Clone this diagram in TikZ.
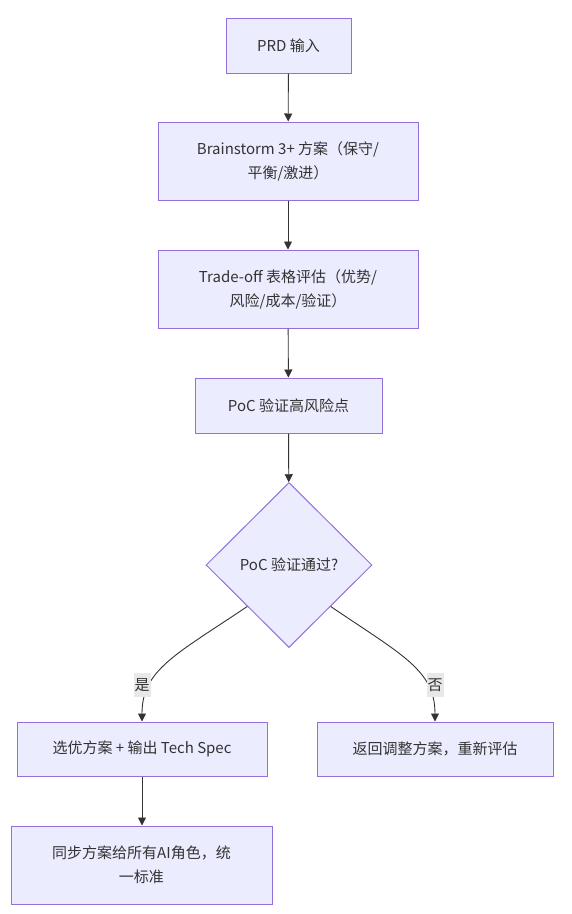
\documentclass[tikz,border=0pt]{standalone}
\usepackage{fontspec}
\setmainfont{Noto Sans CJK SC}
\usetikzlibrary{shapes.geometric,arrows.meta}
\definecolor{nodefill}{HTML}{ECECFF}
\definecolor{nodeline}{HTML}{9370DB}
\definecolor{edgecol}{HTML}{333333}
\definecolor{lblbg}{HTML}{E8E8E8}
\begin{document}
\begin{tikzpicture}[x=1pt,y=-1pt,
  every node/.style={font=\fontsize{15pt}{24pt}\selectfont, text=edgecol},
  box/.style={draw=nodeline, fill=nodefill, line width=1pt, rectangle, inner sep=0pt, align=center},
  decision/.style={draw=nodeline, fill=nodefill, line width=1pt, diamond, aspect=1, inner sep=0pt, minimum width=166pt, minimum height=165pt},
  flow/.style={draw=edgecol, line width=0.9pt, -{Triangle[length=8pt,width=8pt]}},
  elabel/.style={fill=lblbg, inner sep=1pt, minimum height=24pt, minimum width=16pt}
]
\useasboundingbox (0,0) rectangle (572,914);
\node[box, minimum width=125pt, minimum height=55pt] (prd) at (288.5,45.5) {PRD 输入};
\node[box, minimum width=260pt, minimum height=78pt] (brain) at (288,161) {Brainstorm 3+ 方案（保守/\\平衡/激进）};
\node[box, minimum width=260pt, minimum height=78pt] (trade) at (288,289) {Trade-off 表格评估（优势/\\风险/成本/验证）};
\node[box, minimum width=187pt, minimum height=55pt] (poc) at (288.5,405.5) {PoC 验证高风险点};
\node[decision] (dec) at (289,565) {PoC 验证通过?};
\node[box, minimum width=250pt, minimum height=54pt] (sel) at (142,749) {选优方案 + 输出 Tech Spec};
\node[box, minimum width=236pt, minimum height=54pt] (ret) at (435,749) {返回调整方案，重新评估};
\node[box, minimum width=261pt, minimum height=78pt] (sync) at (141.5,865) {同步方案给所有AI角色，统\\一标准};
\draw[flow] (prd) -- (brain);
\draw[flow] (brain) -- (trade);
\draw[flow] (trade) -- (poc);
\draw[flow] (poc) -- (dec);
\draw[flow] (dec.south west) .. controls (175,655) and (142,670) .. (sel.north -| 142,0);
\draw[flow] (dec.south east) .. controls (402,655) and (435,670) .. (ret.north);
\draw[flow] (sel) -- (sel |- sync.north);
\node[elabel] (yes) at (142,685) {是};
\node[elabel] (no) at (435,685) {否};
\end{tikzpicture}
\end{document}
